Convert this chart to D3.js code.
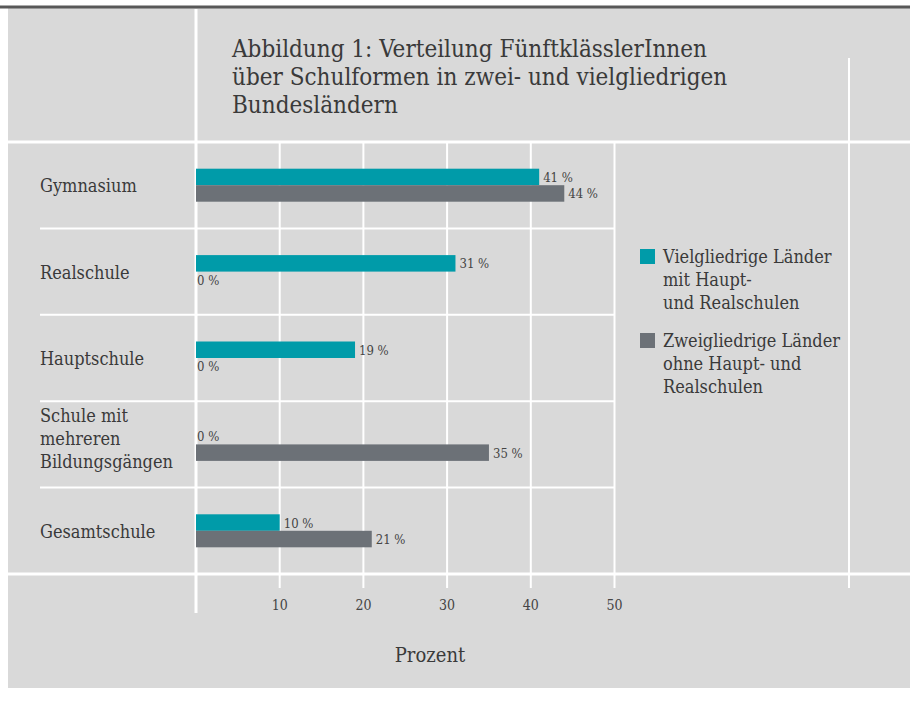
<!DOCTYPE html>
<html>
<head>
<meta charset="utf-8">
<script src="https://cdn.jsdelivr.net/npm/d3@7"></script>
<style>
  body { margin: 0; background: #fff; }
  svg text { font-family: "DejaVu Serif Condensed", "DejaVu Serif", serif; fill: #3a3a3a; }
</style>
</head>
<body>
<svg id="chart" width="915" height="704"></svg>
<script>
// data
var categories = ["Gymnasium", "Realschule", "Hauptschule", "Schule mit mehreren Bildungsgängen", "Gesamtschule"];
var categoryLines = [["Gymnasium"], ["Realschule"], ["Hauptschule"], ["Schule mit", "mehreren", "Bildungsgängen"], ["Gesamtschule"]];
var seriesKeys = ["viel", "zwei"];
var vielgliedrig = [41, 31, 19, 0, 10];
var zweigliedrig = [44, 0, 0, 35, 21];
var legendLines = [["Vielgliedrige Länder", "mit Haupt-", "und Realschulen"], ["Zweigliedrige Länder", "ohne Haupt- und", "Realschulen"]];
var xTicks = [10, 20, 30, 40, 50];
var titleLines = ["Abbildung 1: Verteilung FünftklässlerInnen", "über Schulformen in zwei- und vielgliedrigen", "Bundesländern"];
var axisTitle = "Prozent";

var colors = { viel: "#009ba9", zwei: "#6c7177" };
var grid = "#ffffff";

var svg = d3.select("#chart");

// frame
svg.append("rect").attr("x", 8).attr("y", 8).attr("width", 902).attr("height", 680).attr("fill", "#d9d9d9");
svg.append("line").attr("x1", 0).attr("x2", 910).attr("y1", 7).attr("y2", 7)
    .attr("stroke", "#585858").attr("stroke-width", 3);

var x = d3.scaleLinear().domain([0, 50]).range([196, 614.5]);
var y = d3.scaleBand().domain(categories).range([142, 574]);
var barH = 16.5;
var y1 = d3.scaleBand().domain(seriesKeys)
    .range([y.bandwidth() / 2 - barH, y.bandwidth() / 2 + barH]);

// grid lines
var g = svg.append("g").attr("stroke", grid).attr("stroke-width", 2);
g.selectAll(".vgrid").data(xTicks).enter().append("line")
    .attr("x1", function(d){ return x(d); }).attr("x2", function(d){ return x(d); })
    .attr("y1", 142).attr("y2", 588);
g.selectAll(".rowsep").data(categories.slice(1)).enter().append("line")
    .attr("x1", 40).attr("x2", x(50))
    .attr("y1", function(d){ return y(d); }).attr("y2", function(d){ return y(d); });
g.append("line").attr("x1", 8).attr("x2", 910).attr("y1", 142).attr("y2", 142).attr("stroke-width", 3);
g.append("line").attr("x1", 8).attr("x2", 910).attr("y1", 574).attr("y2", 574).attr("stroke-width", 3);
g.append("line").attr("x1", x(0)).attr("x2", x(0)).attr("y1", 9).attr("y2", 613).attr("stroke-width", 3);
g.append("line").attr("x1", 849).attr("x2", 849).attr("y1", 58).attr("y2", 588);

// title
svg.append("text").attr("x", 232).attr("y", 57).style("font-size", "24px")
  .selectAll("tspan").data(titleLines).enter().append("tspan")
    .attr("x", 232).attr("dy", function(d, i){ return i ? 28 : 0; })
    .text(function(d){ return d; });

// category labels
svg.selectAll(".cat").data(categories).enter().append("text")
    .attr("class", "cat")
    .attr("x", 40)
    .attr("y", function(d, i){
        var n = categoryLines[i].length;
        return y(d) + y.bandwidth() / 2 + 7 - (n - 1) * 23 / 2 - (n > 1 ? 6 : 0);
    })
    .style("font-size", "18px")
  .selectAll("tspan").data(function(d, i){ return categoryLines[i]; }).enter().append("tspan")
    .attr("x", 40).attr("dy", function(d, i){ return i ? 23 : 0; })
    .text(function(d){ return d; });

// bars
var rows = categories.map(function(c, i){
    return { cat: c, values: [{ key: "viel", v: vielgliedrig[i] }, { key: "zwei", v: zweigliedrig[i] }] };
});
var rowG = svg.selectAll(".row").data(rows).enter().append("g")
    .attr("transform", function(d){ return "translate(0," + y(d.cat) + ")"; });
rowG.selectAll("rect").data(function(d){ return d.values; }).enter().append("rect")
    .attr("x", x(0))
    .attr("y", function(d){ return y1(d.key); })
    .attr("width", function(d){ return x(d.v) - x(0); })
    .attr("height", y1.bandwidth())
    .attr("fill", function(d){ return colors[d.key]; });
rowG.selectAll("text").data(function(d){ return d.values; }).enter().append("text")
    .attr("x", function(d){ return x(d.v) + (d.v ? 4 : 1); })
    .attr("y", function(d){ return y1(d.key) + y1.bandwidth() / 2 + 5; })
    .style("font-size", "13px").style("fill", "#444")
    .text(function(d){ return d.v + " %"; });

// x tick labels
svg.selectAll(".tick").data(xTicks).enter().append("text")
    .attr("x", function(d){ return x(d); }).attr("y", 610)
    .attr("text-anchor", "middle").style("font-size", "14px").style("fill", "#444")
    .text(function(d){ return d; });
svg.append("text").attr("x", 430).attr("y", 662).attr("text-anchor", "middle")
    .style("font-size", "20px").text(axisTitle);

// legend
var leg = svg.selectAll(".legend").data(seriesKeys).enter().append("g")
    .attr("transform", function(d, i){ return "translate(640," + (249 + i * 84) + ")"; });
leg.append("rect").attr("width", 15).attr("height", 15)
    .attr("fill", function(d){ return colors[d]; });
leg.append("text").attr("x", 23).attr("y", 14).style("font-size", "18px")
  .selectAll("tspan").data(function(d, i){ return legendLines[i]; }).enter().append("tspan")
    .attr("x", 23).attr("dy", function(d, i){ return i ? 23 : 0; })
    .text(function(d){ return d; });
</script>
</body>
</html>
